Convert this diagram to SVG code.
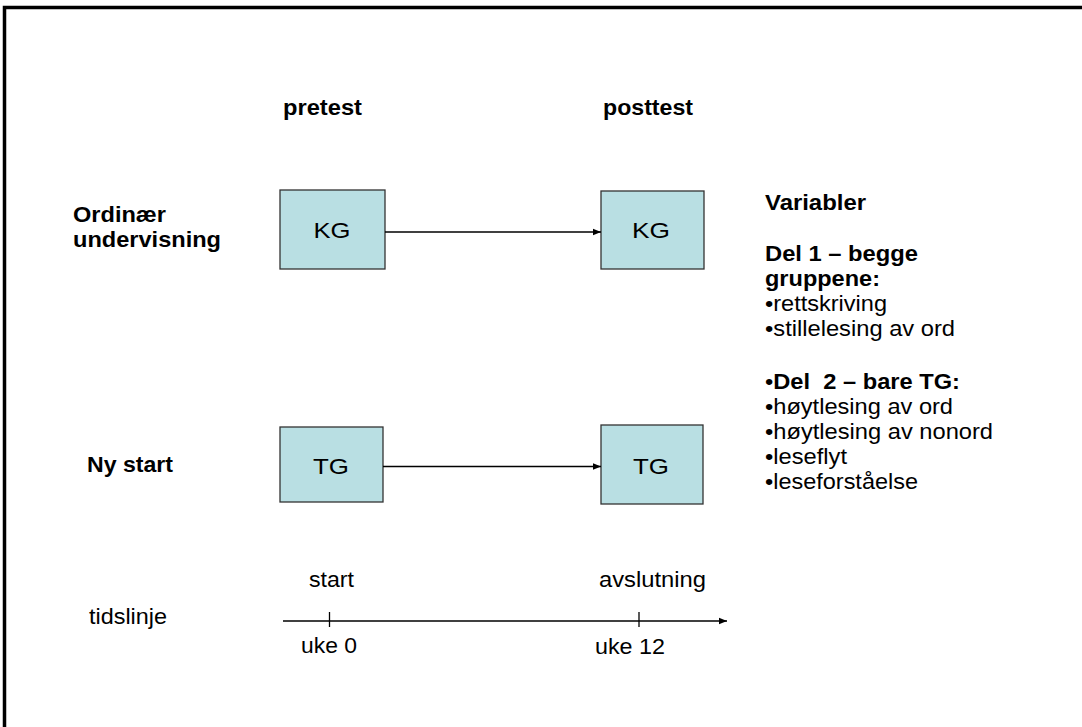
<svg xmlns="http://www.w3.org/2000/svg" width="1082" height="727" viewBox="0 0 1082 727">
<style>
text{font-family:"Liberation Sans",Arial,sans-serif;font-size:22px;fill:#000}
.b{font-weight:bold}
.box{fill:#B9DFE3;stroke:#333;stroke-width:1.3}
.c{stroke:#000;stroke-width:1.3;fill:none}
.m{text-anchor:middle}
</style>
<defs>
<marker id="ah" viewBox="0 0 10 10" refX="10" refY="5" markerWidth="9" markerHeight="8" markerUnits="userSpaceOnUse" orient="auto">
<path d="M0,1 L10,5 L0,9 Z" fill="#000"/>
</marker>
</defs>
<rect width="1082" height="727" fill="#fff"/>
<path d="M4.5,727 V7.5 H1082" fill="none" stroke="#000" stroke-width="3.5"/>

<g id="headers">
<text class="b" x="283" y="115" textLength="79" lengthAdjust="spacingAndGlyphs">pretest</text>
<text class="b" x="603" y="115" textLength="90" lengthAdjust="spacingAndGlyphs">posttest</text>
</g>

<g id="label-ordinaer">
<text class="b" x="73" y="222" textLength="93" lengthAdjust="spacingAndGlyphs">Ordinær</text>
<text class="b" x="73" y="247" textLength="148" lengthAdjust="spacingAndGlyphs">undervisning</text>
</g>
<g id="label-nystart">
<text class="b" x="87" y="472" textLength="86" lengthAdjust="spacingAndGlyphs">Ny start</text>
</g>

<g id="kg-pre">
<rect class="box" x="280" y="190" width="105" height="79"/>
<text class="m" x="332" y="237.5" textLength="37" lengthAdjust="spacingAndGlyphs">KG</text>
</g>
<g id="kg-post">
<rect class="box" x="601" y="191" width="103" height="78"/>
<text class="m" x="651" y="237.5" textLength="38" lengthAdjust="spacingAndGlyphs">KG</text>
</g>
<g id="tg-pre">
<rect class="box" x="280" y="427" width="103" height="75"/>
<text class="m" x="331" y="474" textLength="36" lengthAdjust="spacingAndGlyphs">TG</text>
</g>
<g id="tg-post">
<rect class="box" x="601" y="425" width="102" height="79"/>
<text class="m" x="651" y="473.5" textLength="36" lengthAdjust="spacingAndGlyphs">TG</text>
</g>

<g id="connectors">
<line class="c" x1="385" y1="232" x2="601" y2="232" marker-end="url(#ah)"/>
<line class="c" x1="383" y1="466.5" x2="601" y2="466.5" marker-end="url(#ah)"/>
<line class="c" x1="283" y1="621" x2="727" y2="621" marker-end="url(#ah)"/>
<line class="c" x1="329.5" y1="612" x2="329.5" y2="627"/>
<line class="c" x1="639" y1="612" x2="639" y2="627"/>
</g>

<g id="timeline-labels">
<text x="89" y="623.5" textLength="78" lengthAdjust="spacingAndGlyphs">tidslinje</text>
<text x="309" y="587" textLength="45" lengthAdjust="spacingAndGlyphs">start</text>
<text x="599" y="587" textLength="107" lengthAdjust="spacingAndGlyphs">avslutning</text>
<text x="301" y="653" textLength="56" lengthAdjust="spacingAndGlyphs">uke 0</text>
<text x="595" y="654" textLength="70" lengthAdjust="spacingAndGlyphs">uke 12</text>
</g>

<g id="variabler">
<text class="b" x="765" y="210" textLength="101" lengthAdjust="spacingAndGlyphs">Variabler</text>
<text class="b" x="765" y="261" textLength="153" lengthAdjust="spacingAndGlyphs">Del 1 – begge</text>
<text class="b" x="765" y="286" textLength="115" lengthAdjust="spacingAndGlyphs">gruppene:</text>
<text x="765" y="311" textLength="122" lengthAdjust="spacingAndGlyphs">•rettskriving</text>
<text x="765" y="336" textLength="190" lengthAdjust="spacingAndGlyphs">•stillelesing av ord</text>
<text x="765" y="389" xml:space="preserve" textLength="195" lengthAdjust="spacingAndGlyphs">•<tspan class="b">Del  2 – bare TG:</tspan></text>
<text x="765" y="414" textLength="188" lengthAdjust="spacingAndGlyphs">•høytlesing av ord</text>
<text x="765" y="439" textLength="228" lengthAdjust="spacingAndGlyphs">•høytlesing av nonord</text>
<text x="765" y="464" textLength="82" lengthAdjust="spacingAndGlyphs">•leseflyt</text>
<text x="765" y="489" textLength="153" lengthAdjust="spacingAndGlyphs">•leseforståelse</text>
</g>
</svg>
